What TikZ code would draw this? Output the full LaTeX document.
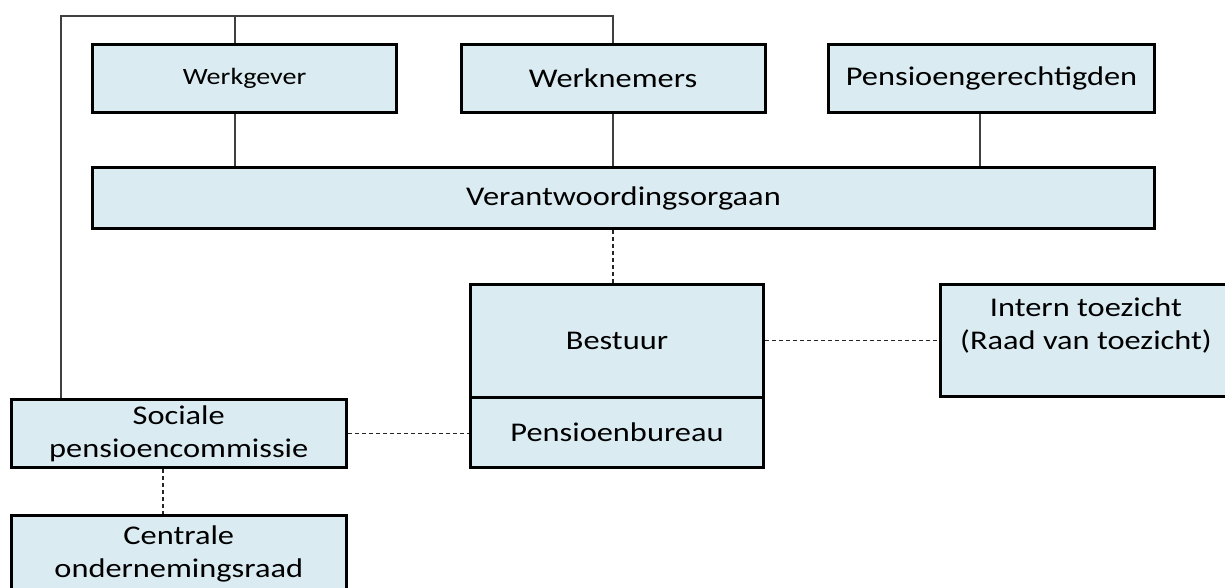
\documentclass[tikz,border=0pt]{standalone}
\usepackage{fontspec}
\setmainfont{Carlito}[FakeStretch=1.2]
\definecolor{boxblue}{RGB}{218,235,242}
\begin{document}
\begin{tikzpicture}[
    x=0.5pt, y=-0.5pt,
    every node/.style={font=\fontsize{13.5}{16.5}\selectfont},
    orgbox/.style={rectangle, draw=black, line width=1.5pt, fill=boxblue, align=center, inner sep=0pt},
    smalltxt/.style={font=\fontsize{11.7}{14}\selectfont},
    link/.style={line width=0.6pt, draw=black!75},
    dlink/.style={line width=0.6pt, draw=black!85, dash pattern=on 2pt off 1.5pt},
]
\useasboundingbox (0,0) rectangle (1225,588);
% Top row
\node[orgbox, smalltxt, minimum width=152pt, minimum height=34pt] (werkgever)    at (244.5,78.5) {Werkgever};
\node[orgbox, minimum width=152pt, minimum height=34pt]           (werknemers)   at (613,78.5)   {Werknemers};
\node[orgbox, minimum width=163pt, minimum height=34pt]           (gerechtigden) at (991.5,78.5) {Pensioengerechtigden};
\node[orgbox, minimum width=531pt, minimum height=30.5pt]         (verantw)      at (623.5,198)  {Verantwoordingsorgaan};
% Middle: bestuur and its bureau
\node[orgbox, minimum width=146.5pt, minimum height=56.25pt] (bestuur) at (617,340.75)  {Bestuur};
\node[orgbox, minimum width=146.5pt, minimum height=35.25pt] (bureau)  at (617,432.25)  {Pensioenbureau};
\node[orgbox, minimum width=145.5pt, minimum height=56pt]    (intern)  at (1086,340.5)  {Intern toezicht\\(Raad van toezicht)\\\mbox{}};
% Left column
\node[orgbox, minimum width=167.75pt, minimum height=34pt] (sociale)  at (178.75,433.5) {Sociale\\pensioencommissie};
\node[orgbox, minimum width=167.75pt, minimum height=38pt] (centrale) at (178.75,553.5) {Centrale\\ondernemingsraad};
% Solid connectors
\coordinate (topleft) at (61,16);
\coordinate (wgfoot)  at ([xshift=-4.75pt]werkgever.south);
\coordinate (pgfoot)  at ([xshift=-5.75pt]gerechtigden.south);
\draw[link] (sociale.north -| topleft) -- (topleft) -| (werknemers.north);
\draw[link] (wgfoot |- werkgever.north) -- (wgfoot |- topleft);
\draw[link] (wgfoot) -- (wgfoot |- verantw.north);
\draw[link] (werknemers.south) -- (werknemers.south |- verantw.north);
\draw[link] (pgfoot) -- (pgfoot |- verantw.north);
% Dashed connectors
\coordinate (spfoot) at ([xshift=-7.9pt]sociale.south);
\draw[dlink] (werknemers.south |- verantw.south) -- (werknemers.south |- bestuur.north);
\draw[dlink] (bestuur.east) -- (bestuur.east -| intern.west);
\draw[dlink] (sociale.east) -- (sociale.east -| bureau.west);
\draw[dlink] (spfoot) -- (spfoot |- centrale.north);
\end{tikzpicture}
\end{document}
